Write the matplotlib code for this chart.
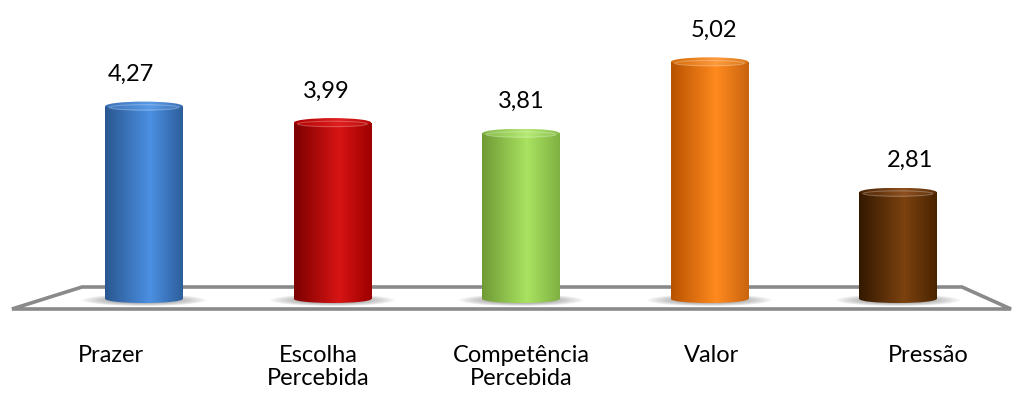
import numpy as np
import matplotlib.pyplot as plt
from matplotlib.colors import LinearSegmentedColormap
from matplotlib.patches import Ellipse, Polygon

# -----------------------------
# Data
# -----------------------------
categories = ["Prazer", "Escolha\nPercebida", "Competência\nPercebida", "Valor", "Pressão"]
values = [4.27, 3.99, 3.81, 5.02, 2.81]
value_labels = ["4,27", "3,99", "3,81", "5,02", "2,81"]
base = 1.0  # axis minimum in the original chart

# shading for each cylinder: left edge, highlight, right edge
shades = [
    ("#2a5790", "#4b90e2", "#2d5e9c"),
    ("#7c0000", "#d81414", "#9c0000"),
    ("#6f9a36", "#a9e361", "#7fb042"),
    ("#b85200", "#ff8a1e", "#c86410"),
    ("#331800", "#7c4210", "#4a2400"),
]
cap_shades = [
    ("#3a70b8", "#5a9be6", "#3d72b5"),
    ("#b00000", "#e02020", "#b80808"),
    ("#86b84a", "#b4ea74", "#8cc04e"),
    ("#d46a08", "#ff9a3c", "#d87818"),
    ("#4a2404", "#8e5020", "#5a300a"),
]

# -----------------------------
# Layout (pixel mapping of the original picture)
# -----------------------------
W, H = 1017, 394
X0, DX = 144, 188.5          # pixel of first bar centre, spacing
Y0, DY = 358, 59             # pixel of value 0, pixels per unit
bar_w = 0.41
eh_top = 4.5 / DY
eh_bot = 4.0 / DY
label_off = [-33, -14, 0, 2, 30]
value_off = [-13, -6, 0, 4, 12]

fig = plt.figure(figsize=(W / 100, H / 100), dpi=100)
ax = fig.add_axes([0, 0, 1, 1])
ax.axis("off")
xlim = (-X0 / DX, (W - X0) / DX)
ylim = ((Y0 - H) / DY, Y0 / DY)


def px(x, y):
    return (x / W, 1 - y / H)


# floor (drawn inside the axes so the bars sit on top of it)
floor = Polygon([px(82, 287), px(962, 287), px(1011, 309), px(12, 309)],
                closed=True, transform=fig.transFigure, facecolor="white",
                edgecolor="#8a8a8a", linewidth=2.6, zorder=1)
ax.add_artist(floor)

xs = np.arange(len(values))

# soft shadows under the bars
for x in xs:
    for k in range(12):
        s = 1 - k * 0.045
        ax.add_patch(Ellipse((x, base - 0.02), 0.66 * s, 0.2 * s,
                             facecolor="#606060", edgecolor="none",
                             alpha=0.05, zorder=2))

bars = ax.bar(xs, np.array(values) - base, bottom=base, width=bar_w,
              color="none", edgecolor="none", zorder=3)


def gradient(cols):
    cmap = LinearSegmentedColormap.from_list(
        "c", [(0, cols[0]), (0.58, cols[1]), (1, cols[2])])
    return cmap(np.linspace(0, 1, 256))[None, :, :]


for i, (rect, v) in enumerate(zip(bars, values)):
    x = xs[i]
    g = gradient(shades[i])
    ext = [x - bar_w / 2, x + bar_w / 2, base - eh_bot, v]
    im = ax.imshow(g, extent=ext, aspect="auto", zorder=3, interpolation="bilinear")
    im.set_clip_path(rect)
    bot = Ellipse((x, base), bar_w, 2 * eh_bot, facecolor="none", edgecolor="none")
    ax.add_patch(bot)
    im2 = ax.imshow(g, extent=ext, aspect="auto", zorder=3, interpolation="bilinear")
    im2.set_clip_path(bot)
    # top cap
    cap = Ellipse((x, v), bar_w, 2 * eh_top, facecolor="none", edgecolor="none")
    ax.add_patch(cap)
    gc = gradient(cap_shades[i])
    im3 = ax.imshow(gc, extent=[x - bar_w / 2, x + bar_w / 2, v - eh_top, v + eh_top],
                    aspect="auto", zorder=4, interpolation="bilinear")
    im3.set_clip_path(cap)
    ax.add_patch(Ellipse((x, v - 0.3 * eh_top), bar_w * 0.9, 2 * eh_top * 0.6,
                         facecolor="none", edgecolor="white", alpha=0.25,
                         linewidth=0.8, zorder=5))

    ax.text(x + value_off[i] / DX, v + eh_top + 27 / DY, value_labels[i],
            ha="center", va="center", fontsize=17, family="Lato", color="black")
    ax.text(x + label_off[i] / DX, (Y0 - 345) / DY, categories[i],
            ha="center", va="top", multialignment="center", fontsize=17,
            family="Lato", color="black", linespacing=1.12)

ax.set_xlim(*xlim)
ax.set_ylim(*ylim)

fig.savefig("out.png", dpi=100)
